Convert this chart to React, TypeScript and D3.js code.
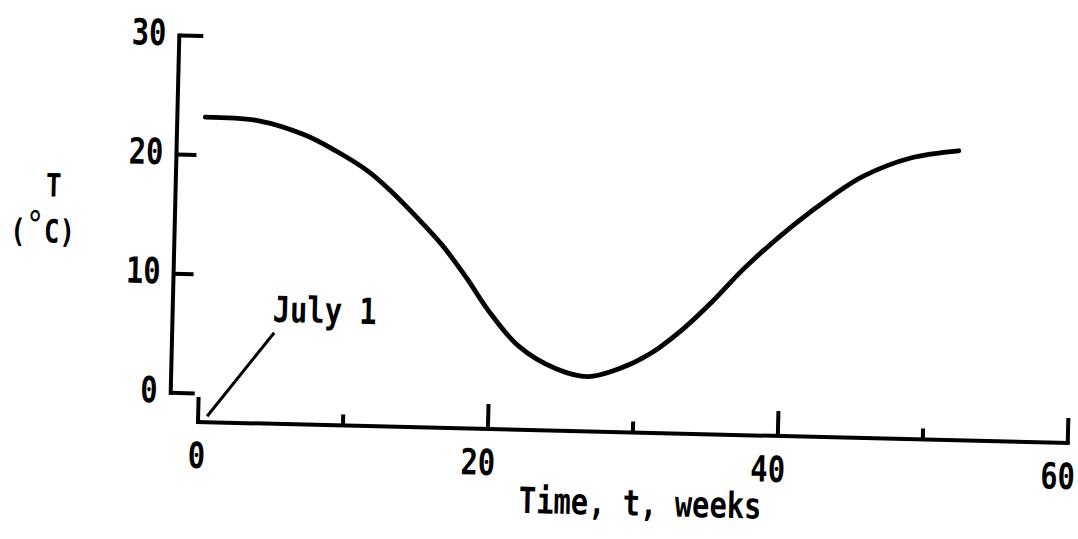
import React from "react";
import * as d3 from "d3";

// ---- data ----
const weeks = [0, 3.7, 6.9, 9.1, 11.3, 12.8, 14.6, 16.5, 18.3, 19.8, 22.0, 24.6, 26.8, 28.9, 31.0, 33.2, 35.3, 37.4, 40.6, 43.4, 45.5, 48.7, 52];
const temps = [23.2, 23.0, 21.9, 20.6, 19.0, 17.5, 15.4, 13.0, 10.2, 7.6, 4.6, 2.8, 2.2, 2.9, 4.2, 6.3, 8.8, 11.6, 15.2, 17.9, 19.6, 21.2, 21.9];
const xMajorTicks = [0, 20, 40, 60];
const xMinorTicks = [10, 30, 50];
const yTicks = [0, 10, 20, 30];
const xTitle = "Time, t, weeks";
const yTitleTop = "T";
const annotation = "July 1";
const annotationWeek = 0;

const W = 1078;
const H = 539;
const FONT = "'DejaVu Sans Mono', monospace";
const SX = 0.8;

export default function App() {
  const x = d3.scaleLinear().domain([0, 60]).range([198, 1068]);
  const y = d3.scaleLinear().domain([0, 30]).range([393.5, 36]);
  const xAxisY = 422;
  const ySpineX = 170;

  const pts = weeks.map((w, i) => [w, temps[i]] as [number, number]);
  const line = d3
    .line<[number, number]>()
    .x((d) => x(d[0]))
    .y((d) => y(d[1]))
    .curve(d3.curveCatmullRom.alpha(0.5));

  const label = (
    key: string,
    tx: number,
    ty: number,
    text: React.ReactNode,
    anchor: "start" | "middle" | "end",
    size = 36
  ) => (
    <text
      key={key}
      transform={`translate(${tx},${ty}) scale(${SX},1)`}
      textAnchor={anchor}
      fontFamily={FONT}
      fontSize={size}
      fontWeight="bold"
      fill="#000"
    >
      {text}
    </text>
  );

  const ax0 = x(annotationWeek);

  return (
    <svg
      width={W}
      height={H}
      viewBox={`0 0 ${W} ${H}`}
      style={{ position: "absolute", left: 0, top: 0, background: "#fff" }}
    >
      <rect x={0} y={0} width={W} height={H} fill="#fff" />
      <g transform={`rotate(1.38, 198, 422)`}>
        {/* Y axis */}
        <line x1={ySpineX} x2={ySpineX} y1={y(0) + 2} y2={y(30) - 2} stroke="#000" strokeWidth={4} />
        {yTicks.map((t) => (
          <line
            key={"yt" + t}
            x1={ySpineX}
            x2={ySpineX + (t === 30 || t === 0 ? 24 : 20)}
            y1={y(t)}
            y2={y(t)}
            stroke="#000"
            strokeWidth={4}
          />
        ))}
        {yTicks.map((t) => label("yl" + t, 157, y(t) + 10, String(t), "end"))}

        {/* X axis */}
        <line x1={x(0) - 2} x2={x(60) + 2} y1={xAxisY} y2={xAxisY} stroke="#000" strokeWidth={4} />
        {xMajorTicks.map((t) => (
          <line key={"xt" + t} x1={x(t)} x2={x(t)} y1={xAxisY} y2={xAxisY - 25} stroke="#000" strokeWidth={4} />
        ))}
        {xMinorTicks.map((t) => (
          <line key={"xm" + t} x1={x(t)} x2={x(t)} y1={xAxisY} y2={xAxisY - 11} stroke="#000" strokeWidth={4} />
        ))}
        {xMajorTicks.map((t) => label("xl" + t, x(t) + 8, xAxisY + 46, String(t), "end"))}

        {/* Axis titles */}
        {label("xtitle", 642, 505, xTitle, "middle")}
        {label("yt1", 48, 200, yTitleTop, "middle", 32)}
        {label(
          "yt2",
          38,
          246,
          <>
            {"("}
            <tspan fontSize={38} fontWeight="normal" dy={-4}>°</tspan>
            <tspan dy={4}>{"C)"}</tspan>
          </>,
          "middle",
          32
        )}

        {/* Curve */}
        <path d={line(pts) || ""} fill="none" stroke="#000" strokeWidth={4.8} strokeLinejoin="round" strokeLinecap="round" />

        {/* Annotation */}
        <line x1={ax0 + 9} y1={xAxisY - 6} x2={ax0 + 74} y2={331} stroke="#000" strokeWidth={3} />
        {label("ann", 270, 320, annotation, "start")}
      </g>
    </svg>
  );
}
